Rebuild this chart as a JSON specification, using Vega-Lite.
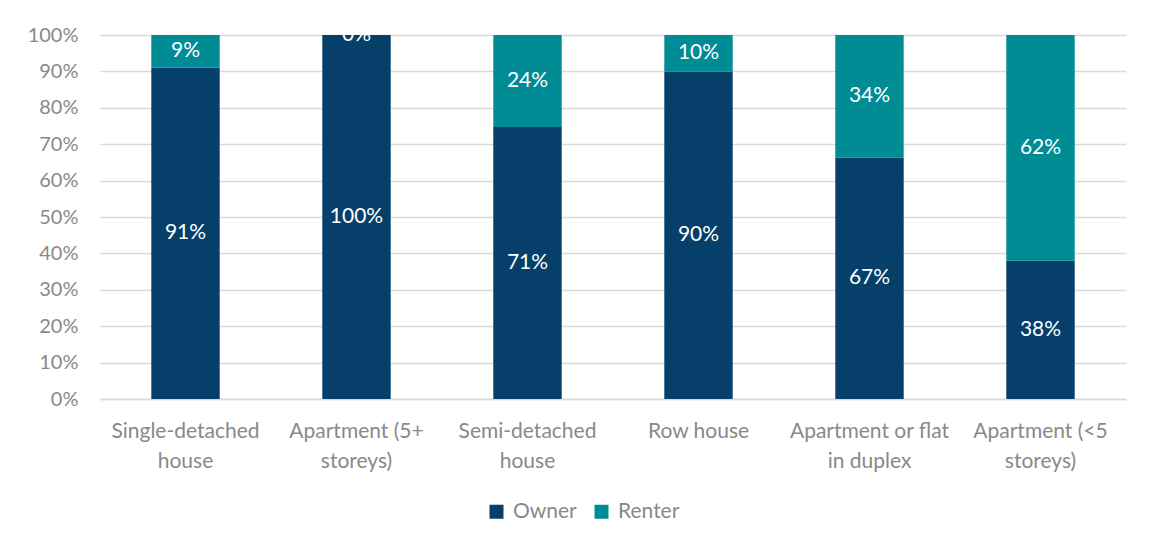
{
  "$schema": "https://vega.github.io/schema/vega-lite/v6.json",
  "width": 1026,
  "height": 364,
  "autosize": {"type": "none"},
  "padding": {"left": 100, "top": 35, "right": 23, "bottom": 151},
  "background": "white",
  "config": {
    "view": {"stroke": null},
    "font": "Lato",
    "axis": {"labelFont": "Lato", "labelColor": "#898989"},
    "legend": {"labelFont": "Lato", "labelColor": "#898989"}
  },
  "data": {
    "values": [
      {"type": "Single-detached house", "tenure": "Owner", "pct": 91},
      {"type": "Single-detached house", "tenure": "Renter", "pct": 9},
      {"type": "Apartment (5+ storeys)", "tenure": "Owner", "pct": 100},
      {"type": "Apartment (5+ storeys)", "tenure": "Renter", "pct": 0},
      {"type": "Semi-detached house", "tenure": "Owner", "pct": 71},
      {"type": "Semi-detached house", "tenure": "Renter", "pct": 24},
      {"type": "Row house", "tenure": "Owner", "pct": 90},
      {"type": "Row house", "tenure": "Renter", "pct": 10},
      {"type": "Apartment or flat in duplex", "tenure": "Owner", "pct": 67},
      {"type": "Apartment or flat in duplex", "tenure": "Renter", "pct": 34},
      {"type": "Apartment (<5 storeys)", "tenure": "Owner", "pct": 38},
      {"type": "Apartment (<5 storeys)", "tenure": "Renter", "pct": 62}
    ]
  },
  "transform": [
    {"stack": "pct", "groupby": ["type"], "sort": [{"field": "tenure", "order": "ascending"}], "offset": "normalize", "as": ["y0", "y1"]},
    {"calculate": "(datum.y0 + datum.y1) / 2", "as": "ymid"},
    {"calculate": "datum.pct + '%'", "as": "label"}
  ],
  "encoding": {
    "x": {
      "field": "type",
      "type": "nominal",
      "sort": ["Single-detached house", "Apartment (5+ storeys)", "Semi-detached house", "Row house", "Apartment or flat in duplex", "Apartment (<5 storeys)"],
      "scale": {"paddingInner": 0.6, "paddingOuter": 0.3},
      "axis": {
        "title": null,
        "labelAngle": 0,
        "ticks": false,
        "domainColor": "#d9d9d9",
        "domainWidth": 1.5,
        "labelFontSize": 21,
        "labelLineHeight": 30,
        "labelPadding": 21,
        "labelBaseline": "top",
        "labelLimit": 0,
        "labelExpr": "datum.value == 'Single-detached house' ? ['Single-detached', 'house'] : datum.value == 'Apartment (5+ storeys)' ? ['Apartment (5+', 'storeys)'] : datum.value == 'Semi-detached house' ? ['Semi-detached', 'house'] : datum.value == 'Apartment or flat in duplex' ? ['Apartment or flat', 'in duplex'] : datum.value == 'Apartment (<5 storeys)' ? ['Apartment (<5', 'storeys)'] : datum.value"
      }
    }
  },
  "layer": [
    {
      "mark": {"type": "bar"},
      "encoding": {
        "y": {
          "field": "y0",
          "type": "quantitative",
          "scale": {"domain": [0, 1], "nice": false},
          "axis": {
            "title": null,
            "format": ".0%",
            "values": [0, 0.1, 0.2, 0.3, 0.4, 0.5, 0.6, 0.7, 0.8, 0.9, 1],
            "ticks": false,
            "domain": false,
            "gridColor": "#d9d9d9",
            "gridWidth": 1.5,
            "labelFontSize": 20,
            "labelPadding": 22
          }
        },
        "y2": {"field": "y1"},
        "color": {
          "field": "tenure",
          "type": "nominal",
          "scale": {"domain": ["Owner", "Renter"], "range": ["#053F6A", "#008C95"]},
          "legend": {
            "title": null,
            "orient": "none",
            "direction": "horizontal",
            "legendX": 386,
            "legendY": 466,
            "symbolType": "square",
            "symbolSize": 196,
            "symbolStrokeWidth": 0,
            "labelFontSize": 21,
            "labelOffset": 6,
            "columnPadding": 14
          }
        }
      }
    },
    {
      "mark": {"type": "text", "color": "white", "fontSize": 21, "baseline": "middle", "align": "center"},
      "encoding": {
        "y": {
          "field": "ymid",
          "type": "quantitative",
          "axis": {
            "title": null,
            "format": ".0%",
            "values": [0, 0.1, 0.2, 0.3, 0.4, 0.5, 0.6, 0.7, 0.8, 0.9, 1],
            "ticks": false,
            "domain": false,
            "gridColor": "#d9d9d9",
            "gridWidth": 1.5,
            "labelFontSize": 20,
            "labelPadding": 22
          }
        },
        "text": {"field": "label", "type": "nominal"}
      }
    }
  ]
}
